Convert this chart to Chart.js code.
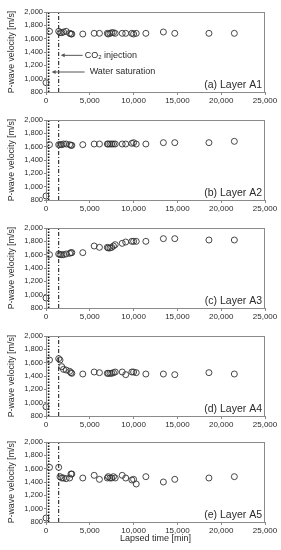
<!DOCTYPE html>
<html>
<head>
<meta charset="utf-8">
<title>P-wave velocity</title>
<script src="https://cdn.jsdelivr.net/npm/chart.js@4/dist/chart.umd.min.js"></script>
<style>
    html, body { margin: 0; padding: 0; background: #fff; }
    #wrap { position: relative; width: 281px; height: 550px; overflow: hidden; }
    .panel { position: absolute; left: 0; width: 281px; }
</style>
</head>
<body>
<div id="wrap"></div>
<script>
// 経過時間 [min]（全レイヤー共通）
const times = [0, 400, 1450, 1600, 1800, 2000, 2300, 2700, 2850, 2950, 4200, 5500, 6100, 7000, 7100, 7300, 7500, 7700, 7900, 8700, 9100, 9800, 10000, 10300, 11400, 13400, 14700, 18600, 21500];

// P波速度 [m/s]
const layerA1 = [940, 1710, 1710, 1690, 1690, 1700, 1710, 1680, 1670, 1670, 1670, 1680, 1680, 1680, 1670, 1680, 1690, 1690, 1680, 1680, 1680, 1680, 1670, 1680, 1680, 1700, 1680, 1680, 1680];
const layerA2 = [860, 1630, 1630, 1630, 1630, 1640, 1640, 1630, 1620, 1620, 1630, 1640, 1640, 1640, 1640, 1640, 1640, 1640, 1640, 1640, 1640, 1650, 1660, 1640, 1640, 1660, 1660, 1660, 1680];
const layerA3 = [950, 1600, 1610, 1600, 1600, 1600, 1610, 1620, 1630, 1630, 1630, 1730, 1710, 1710, 1700, 1700, 1710, 1730, 1750, 1770, 1790, 1800, 1800, 1800, 1800, 1840, 1840, 1820, 1820];
const layerA4 = [940, 1640, 1660, 1640, 1540, 1500, 1490, 1470, 1450, 1440, 1430, 1460, 1450, 1440, 1440, 1440, 1440, 1450, 1460, 1460, 1420, 1460, 1460, 1450, 1430, 1430, 1420, 1450, 1430];
const layerA5 = [860, 1620, 1620, 1480, 1460, 1460, 1450, 1460, 1520, 1520, 1460, 1500, 1440, 1460, 1480, 1460, 1460, 1480, 1460, 1500, 1460, 1430, 1440, 1370, 1480, 1400, 1440, 1460, 1480];

const layerValues = [layerA1, layerA2, layerA3, layerA4, layerA5];
const layerLabels = ['(a) Layer A1', '(b) Layer A2', '(c) Layer A3', '(d) Layer A4', '(e) Layer A5'];

// 目盛り
const xTicks = [0, 5000, 10000, 15000, 20000, 25000];
const yTicks = [800, 1000, 1200, 1400, 1600, 1800, 2000];

// イベント時刻
const waterSaturationTime = 300;
const co2InjectionTime = 1450;

const FONT = "'Liberation Sans', Arial, sans-serif";
const TEXT_COLOR = '#2a2a2a';
const AXIS_COLOR = '#8a8a8a';

// 各パネルのプロット上端 [px]
const plotTops = [12, 120, 228, 336, 442];

document.addEventListener('DOMContentLoaded', function() {
    'use strict';
    layerValues.forEach((values, i) => createPanel(i, values));
});

// 枠線・ラベル・注記
const panelDecor = {
    id: 'panelDecor',
    afterDraw(chart, args, opts) {
        const ctx = chart.ctx;
        const area = chart.chartArea;
        const xs = chart.scales.x;
        const ys = chart.scales.y;

        ctx.save();
        ctx.strokeStyle = AXIS_COLOR;
        ctx.lineWidth = 1;
        ctx.strokeRect(area.left + 0.5, area.top + 0.5, area.right - area.left - 1, area.bottom - area.top);

        ctx.fillStyle = TEXT_COLOR;
        ctx.font = '10.5px ' + FONT;
        ctx.textAlign = 'right';
        ctx.textBaseline = 'alphabetic';
        ctx.fillText(opts.label, area.right - 3, area.bottom - 4);

        if (opts.annotate) {
            drawArrow(ctx, xs.getPixelForValue(co2InjectionTime) + 2, xs.getPixelForValue(co2InjectionTime) + 24, ys.getPixelForValue(1350));
            drawArrow(ctx, xs.getPixelForValue(waterSaturationTime) + 3, xs.getPixelForValue(waterSaturationTime) + 36, ys.getPixelForValue(1100));

            ctx.textAlign = 'left';
            ctx.textBaseline = 'middle';
            ctx.font = '9px ' + FONT;
            let tx = xs.getPixelForValue(co2InjectionTime) + 26;
            let ty = ys.getPixelForValue(1350);
            ctx.fillText('CO', tx, ty);
            tx += ctx.measureText('CO').width;
            ctx.font = '6px ' + FONT;
            ctx.fillText('2', tx, ty + 2.5);
            tx += ctx.measureText('2').width + 1;
            ctx.font = '9px ' + FONT;
            ctx.fillText('injection', tx + 1.5, ty);

            ctx.fillText('Water saturation', xs.getPixelForValue(waterSaturationTime) + 41, ys.getPixelForValue(1100));
        }
        ctx.restore();
    }
};

function drawArrow(ctx, tipX, tailX, y) {
    ctx.strokeStyle = '#555';
    ctx.fillStyle = '#555';
    ctx.lineWidth = 1;
    ctx.beginPath();
    ctx.moveTo(tailX, y);
    ctx.lineTo(tipX + 3, y);
    ctx.stroke();
    ctx.beginPath();
    ctx.moveTo(tipX, y);
    ctx.lineTo(tipX + 4, y - 2);
    ctx.lineTo(tipX + 4, y + 2);
    ctx.closePath();
    ctx.fill();
    ctx.fillStyle = TEXT_COLOR;
}

function verticalLine(time, dash, width) {
    return {
        type: 'line',
        data: [{ x: time, y: yTicks[0] }, { x: time, y: yTicks[yTicks.length - 1] }],
        borderColor: '#111',
        borderWidth: width,
        borderDash: dash,
        pointRadius: 0,
        fill: false
    };
}

function createPanel(index, values) {
    const isLast = index === layerValues.length - 1;
    const height = isLast ? 114 : 107;

    const div = document.createElement('div');
    div.className = 'panel';
    div.style.top = (plotTops[index] - 12) + 'px';
    div.style.height = height + 'px';
    const canvas = document.createElement('canvas');
    div.appendChild(canvas);
    document.getElementById('wrap').appendChild(div);

    new Chart(canvas.getContext('2d'), {
        type: 'scatter',
        data: {
            datasets: [{
                data: times.map((t, i) => ({ x: t, y: values[i] })),
                clip: false,
                pointRadius: 3,
                pointHoverRadius: 3,
                pointBorderWidth: 0.9,
                pointBorderColor: '#333',
                pointBackgroundColor: 'rgba(0,0,0,0)'
            },
            verticalLine(waterSaturationTime, [1.5, 1.5], 1.6),
            verticalLine(co2InjectionTime, [4, 2, 1, 2], 1)]
        },
        options: {
            responsive: true,
            maintainAspectRatio: false,
            animation: false,
            layout: { padding: { left: 0, right: 16, top: 12, bottom: 0 } },
            plugins: {
                legend: { display: false },
                tooltip: { enabled: false },
                panelDecor: { label: layerLabels[index], annotate: index === 0 }
            },
            scales: {
                x: {
                    type: 'linear',
                    min: xTicks[0],
                    max: xTicks[xTicks.length - 1],
                    afterBuildTicks: scale => { scale.ticks = xTicks.map(v => ({ value: v })); },
                    afterFit: scale => { scale.height = isLast ? 22 : 15; },
                    ticks: {
                        callback: value => value.toLocaleString('en-US'),
                        font: { family: FONT, size: 8 },
                        color: TEXT_COLOR,
                        padding: 1,
                        maxRotation: 0,
                        autoSkip: false
                    },
                    grid: { drawOnChartArea: false, tickLength: 3, color: AXIS_COLOR },
                    border: { color: AXIS_COLOR },
                    title: {
                        display: isLast,
                        text: 'Lapsed time [min]',
                        font: { family: FONT, size: 9 },
                        color: TEXT_COLOR,
                        padding: 0
                    }
                },
                y: {
                    min: yTicks[0],
                    max: yTicks[yTicks.length - 1],
                    afterBuildTicks: scale => { scale.ticks = yTicks.map(v => ({ value: v })); },
                    afterFit: scale => { scale.width = 46; },
                    ticks: {
                        callback: value => value.toLocaleString('en-US'),
                        font: { family: FONT, size: 7.5 },
                        color: TEXT_COLOR,
                        padding: 1
                    },
                    grid: { drawOnChartArea: false, tickLength: 2, color: AXIS_COLOR },
                    border: { color: AXIS_COLOR },
                    title: {
                        display: true,
                        text: 'P-wave velocity [m/s]',
                        font: { family: FONT, size: 8.8 },
                        color: TEXT_COLOR,
                        padding: { top: 6, bottom: 0 }
                    }
                }
            }
        },
        plugins: [panelDecor]
    });
}
</script>
</body>
</html>
